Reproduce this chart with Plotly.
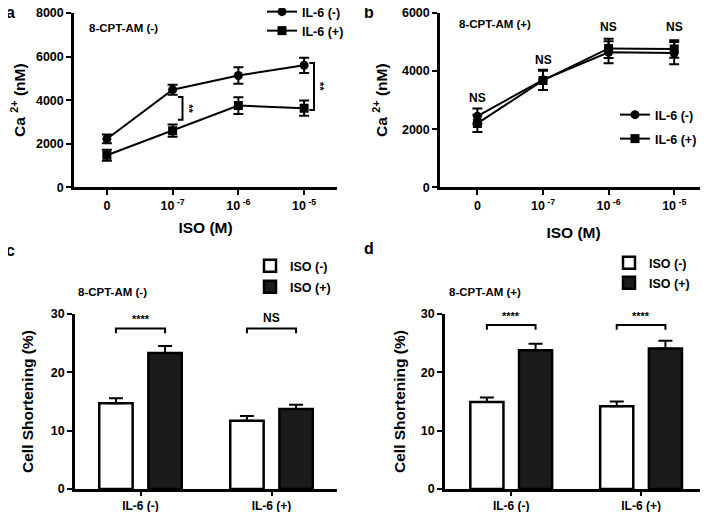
import plotly.graph_objects as go

# ---------------- data ----------------
iso_labels = ["0", "10<sup> -7</sup>", "10<sup> -6</sup>", "10<sup> -5</sup>"]
iso_pos = [0, 1, 2, 3]

a_il6_neg = [2220, 4480, 5130, 5600]
a_il6_neg_err = [200, 230, 380, 350]
a_il6_pos = [1470, 2600, 3750, 3630]
a_il6_pos_err = [250, 280, 380, 350]
a_sig_x = [1, 3]
a_sig_lo = [3100, 3550]
a_sig_hi = [4150, 5700]
a_sig_txt = ["**", "**"]

b_il6_neg = [2450, 3700, 4650, 4620]
b_il6_neg_err = [260, 350, 380, 380]
b_il6_pos = [2200, 3680, 4780, 4760]
b_il6_pos_err = [300, 330, 330, 300]
b_sig_y = [3060, 4380, 5530, 5530]
b_sig_txt = ["NS", "NS", "NS", "NS"]

groups = ["IL-6 (-)", "IL-6 (+)"]
grp_pos = [0, 1]
c_iso_neg = [14.7, 11.7]
c_iso_neg_err = [0.85, 0.8]
c_iso_pos = [23.3, 13.7]
c_iso_pos_err = [1.2, 0.75]
c_sig_y = [27.5, 27.5]
c_sig_txt = ["****", "NS"]

d_iso_neg = [14.9, 14.2]
d_iso_neg_err = [0.8, 0.8]
d_iso_pos = [23.8, 24.1]
d_iso_pos_err = [1.1, 1.3]
d_sig_y = [28.1, 28.1]
d_sig_txt = ["****", "****"]

# page body has an 8px margin, so the figure is sized to the remaining window
OFF = 8
W, H = 708 - OFF, 512 - OFF
FONT = "Liberation Sans"
BAR_OFF = 0.1875


def px(x):
    return (x - OFF) / W


def py(y):
    return 1 - (y - OFF) / H


fig = go.Figure()

# ---- panel a ----
fig.add_trace(go.Scatter(x=iso_pos, y=a_il6_neg, mode="lines+markers", name="IL-6 (-)",
                         line=dict(color="black", width=2),
                         marker=dict(symbol="circle", size=9, color="black"),
                         error_y=dict(type="data", array=a_il6_neg_err, color="black", thickness=2, width=5),
                         xaxis="x", yaxis="y", legend="legend"))
fig.add_trace(go.Scatter(x=iso_pos, y=a_il6_pos, mode="lines+markers", name="IL-6 (+)",
                         line=dict(color="black", width=2),
                         marker=dict(symbol="square", size=9, color="black"),
                         error_y=dict(type="data", array=a_il6_pos_err, color="black", thickness=2, width=5),
                         xaxis="x", yaxis="y", legend="legend2"))

# ---- panel b ----
fig.add_trace(go.Scatter(x=iso_pos, y=b_il6_neg, mode="lines+markers", name="IL-6 (-)",
                         line=dict(color="black", width=2),
                         marker=dict(symbol="circle", size=9, color="black"),
                         error_y=dict(type="data", array=b_il6_neg_err, color="black", thickness=2, width=5),
                         xaxis="x2", yaxis="y2", legend="legend3"))
fig.add_trace(go.Scatter(x=iso_pos, y=b_il6_pos, mode="lines+markers", name="IL-6 (+)",
                         line=dict(color="black", width=2),
                         marker=dict(symbol="square", size=9, color="black"),
                         error_y=dict(type="data", array=b_il6_pos_err, color="black", thickness=2, width=5),
                         xaxis="x2", yaxis="y2", legend="legend4"))

# ---- panels c, d ----
def add_bars(vals_neg, err_neg, vals_pos, err_pos, xa, ya, lg1, lg2):
    fig.add_trace(go.Bar(x=grp_pos, y=vals_neg, name="ISO (-)",
                         marker=dict(color="white", line=dict(color="black", width=2.5)),
                         error_y=dict(type="data", symmetric=False, array=err_neg,
                                      arrayminus=[0] * len(err_neg), color="black", thickness=2, width=7),
                         xaxis=xa, yaxis=ya, legend=lg1, offsetgroup="neg"))
    fig.add_trace(go.Bar(x=grp_pos, y=vals_pos, name="ISO (+)",
                         marker=dict(color="#1b1b1b", line=dict(color="black", width=2.5)),
                         error_y=dict(type="data", symmetric=False, array=err_pos,
                                      arrayminus=[0] * len(err_pos), color="black", thickness=2, width=7),
                         xaxis=xa, yaxis=ya, legend=lg2, offsetgroup="pos"))


add_bars(c_iso_neg, c_iso_neg_err, c_iso_pos, c_iso_pos_err, "x3", "y3", "legend5", "legend6")
add_bars(d_iso_neg, d_iso_neg_err, d_iso_pos, d_iso_pos_err, "x4", "y4", "legend7", "legend8")

shapes = []
annotations = []

# panel a brackets
for xs, lo, hi, t in zip(a_sig_x, a_sig_lo, a_sig_hi, a_sig_txt):
    xr = xs + 0.15
    xl = xs + 0.08
    shapes.append(dict(type="path", xref="x", yref="y",
                       path=f"M{xl},{hi} L{xr},{hi} L{xr},{lo} L{xl},{lo}",
                       line=dict(color="black", width=2)))
    annotations.append(dict(x=xr + 0.1, y=(lo + hi) / 2, xref="x", yref="y", text=t,
                            textangle=90, showarrow=False, font=dict(size=11)))

# panel b NS
for xs, ys, t in zip(iso_pos, b_sig_y, b_sig_txt):
    annotations.append(dict(x=xs, y=ys, xref="x2", yref="y2", text=t, showarrow=False,
                            font=dict(size=12)))

# panel c/d brackets
for ys_list, txts, xa, ya in ((c_sig_y, c_sig_txt, "x3", "y3"), (d_sig_y, d_sig_txt, "x4", "y4")):
    for g, ys, t in zip(grp_pos, ys_list, txts):
        x0, x1 = g - BAR_OFF, g + BAR_OFF
        shapes.append(dict(type="path", xref=xa, yref=ya,
                           path=f"M{x0},{ys - 0.8} L{x0},{ys} L{x1},{ys} L{x1},{ys - 0.8}",
                           line=dict(color="black", width=2)))
        annotations.append(dict(x=g, y=ys + 0.25, xref=xa, yref=ya, text=t, showarrow=False,
                                yanchor="bottom", font=dict(size=12 if t == "NS" else 11)))

paper_txt = dict(xref="paper", yref="paper", showarrow=False, xanchor="center", yanchor="middle")
# subtitles
annotations += [
    dict(x=px(124), y=py(28), text="8-CPT-AM (-)", font=dict(size=11.5), **paper_txt),
    dict(x=px(495), y=py(24), text="8-CPT-AM (+)", font=dict(size=11.5), **paper_txt),
    dict(x=px(112), y=py(292), text="8-CPT-AM (-)", font=dict(size=11.5), **paper_txt),
    dict(x=px(485), y=py(292), text="8-CPT-AM (+)", font=dict(size=11.5), **paper_txt),
]
# panel letters
for letter, lx, ly in (("a", 10, 13), ("b", 369, 13), ("c", 10, 250), ("d", 369, 248)):
    annotations.append(dict(x=px(lx), y=py(ly), text=letter, font=dict(size=16), **paper_txt))

axis_common = dict(showline=True, linecolor="black", linewidth=2.5, ticks="outside",
                   tickwidth=2, tickcolor="black", showgrid=False, zeroline=False,
                   ticklabeloverflow="allow", title_font=dict(size=15.5))
yax = dict(ticklen=5, tickfont=dict(size=12.5), **axis_common)
xax = dict(ticklen=5, tickfont=dict(size=12.5), **axis_common)
xax_bar = dict(ticklen=4, tickfont=dict(size=12), **axis_common)

legend_common = dict(bgcolor="rgba(0,0,0,0)", font=dict(size=12.5), xanchor="left", yanchor="middle",
                     itemwidth=30, visible=True)

fig.update_layout(
    width=W, height=H,
    showlegend=True,
    margin=dict(l=0, r=0, t=0, b=0, autoexpand=False),
    paper_bgcolor="white", plot_bgcolor="white",
    font=dict(family=FONT, color="black", weight="bold"),
    barmode="group", bargap=0.25, bargroupgap=0.32,
    xaxis=dict(domain=[px(74), px(337)], anchor="y", range=[-0.5, 3.5], tickvals=iso_pos,
               ticktext=iso_labels, title=dict(text="ISO (M)", standoff=11), **xax),
    yaxis=dict(domain=[py(187.3), py(13)], anchor="x", range=[0, 8000], dtick=2000,
               title=dict(text="Ca <sup>2+</sup> (nM)", standoff=10), **yax),
    xaxis2=dict(domain=[px(440), px(707)], anchor="y2", range=[-0.57, 3.5], tickvals=iso_pos,
                ticktext=iso_labels, title=dict(text="ISO (M)", standoff=16), **xax),
    yaxis2=dict(domain=[py(187.3), py(13)], anchor="x2", range=[0, 6000], dtick=2000,
                title=dict(text="Ca <sup>2+</sup> (nM)", standoff=11), **yax),
    xaxis3=dict(domain=[px(75), px(337)], anchor="y3", range=[-0.5, 1.5], tickvals=grp_pos,
                ticktext=groups, **xax_bar),
    yaxis3=dict(domain=[py(489), py(314)], anchor="x3", range=[0, 30], dtick=10,
                title=dict(text="Cell Shortening (%)", standoff=14), **yax),
    xaxis4=dict(domain=[px(445), px(706)], anchor="y4", range=[-0.51, 1.5], tickvals=grp_pos,
                ticktext=groups, **xax_bar),
    yaxis4=dict(domain=[py(489), py(314)], anchor="x4", range=[0, 30], dtick=10,
                title=dict(text="Cell Shortening (%)", standoff=12), **yax),
    legend=dict(x=px(262), y=py(12), **legend_common),
    legend2=dict(x=px(262), y=py(31), **legend_common),
    legend3=dict(x=px(615), y=py(115), **legend_common),
    legend4=dict(x=px(615), y=py(139), **legend_common),
    legend5=dict(x=px(250), y=py(266), **legend_common),
    legend6=dict(x=px(250), y=py(287), **legend_common),
    legend7=dict(x=px(609), y=py(263), **legend_common),
    legend8=dict(x=px(609), y=py(283), **legend_common),
    shapes=shapes,
    annotations=annotations,
)

fig.write_html("out.html")
